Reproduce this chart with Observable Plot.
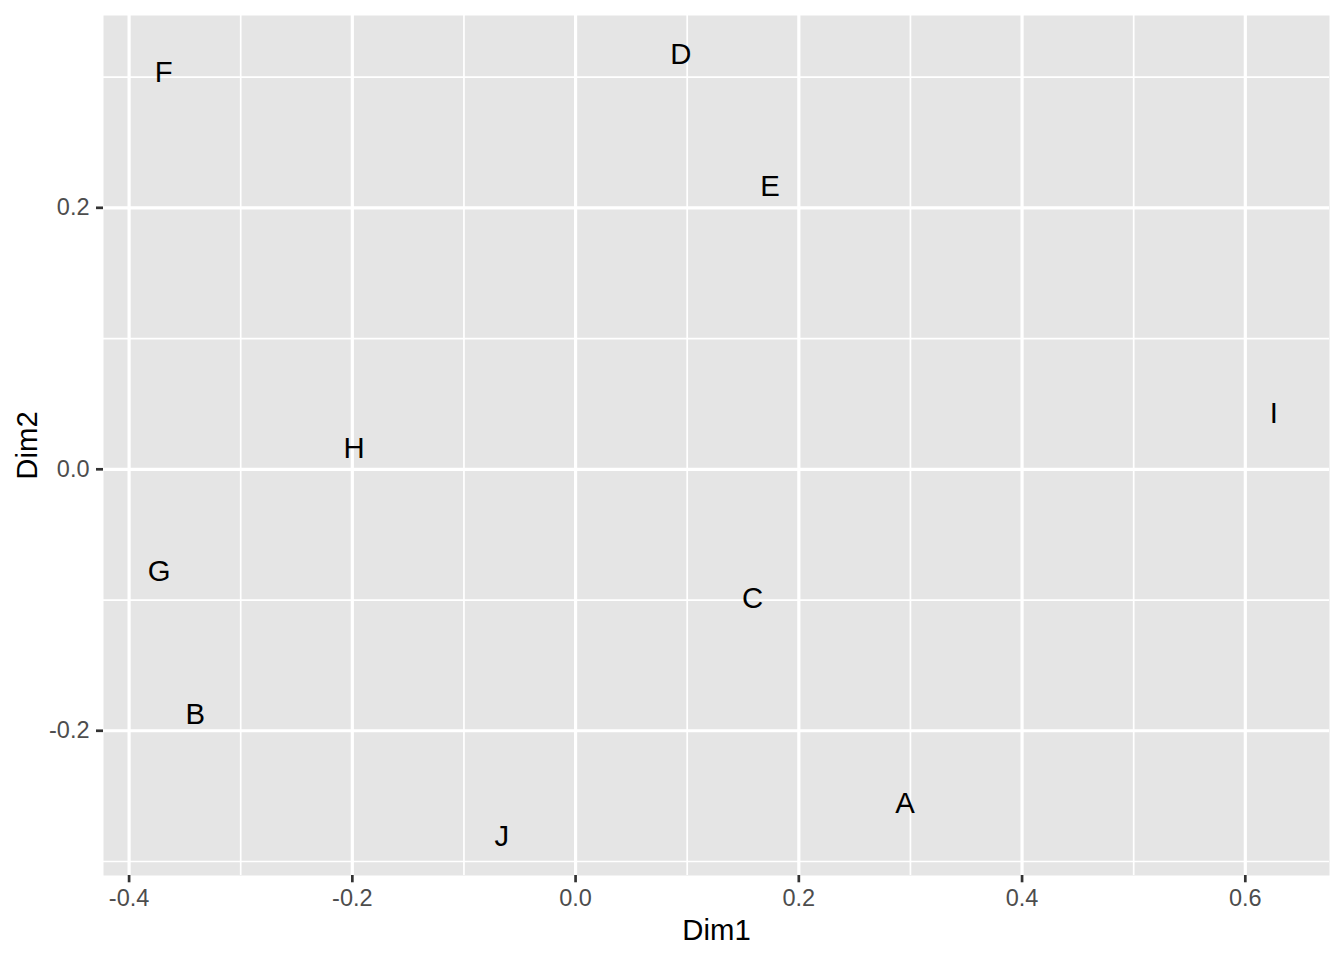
<!DOCTYPE html>
<html><head><meta charset="utf-8">
<script src="https://cdn.jsdelivr.net/npm/d3@7"></script>
<script src="https://cdn.jsdelivr.net/npm/@observablehq/plot@0.6"></script>
<style>html,body{margin:0;padding:0;background:#fff;} #chart svg{display:block;}</style>
</head><body><div id="chart"></div>
<script>
const labels = ["A","B","C","D","E","F","G","H","I","J"];
const dim1 = [0.2952,-0.3408,0.1586,0.0943,0.1743,-0.3689,-0.3730,-0.1985,0.6255,-0.0660];
const dim2 = [-0.2556,-0.1874,-0.0986,0.3172,0.2160,0.3033,-0.0786,0.0159,0.0425,-0.2808];
const xMajor = [-0.4,-0.2,0,0.2,0.4,0.6];
const xMinor = [-0.3,-0.1,0.1,0.3,0.5];
const yMajor = [-0.2,0,0.2];
const yMinor = [-0.3,-0.1,0.1,0.3];
const xTitle = "Dim1";
const yTitle = "Dim2";

const data = labels.map((l,i) => ({label:l, x:dim1[i], y:dim2[i]}));
function expand(v){const lo=d3.min(v),hi=d3.max(v),s=hi-lo;return [lo-0.05*s,hi+0.05*s];}
const font = "Liberation Sans, Arial, Helvetica, sans-serif";
const fmt = d => d.toFixed(1);

const chart = Plot.plot({
  width: 1344, height: 960,
  marginLeft: 103, marginRight: 15, marginTop: 15, marginBottom: 85,
  style: {fontFamily: font, background: "#ffffff"},
  x: {domain: expand(dim1)},
  y: {domain: expand(dim2)},
  marks: [
    Plot.frame({fill: "#E5E5E5", stroke: null}),
    Plot.ruleX(xMinor, {stroke: "white", strokeWidth: 1.7}),
    Plot.ruleY(yMinor, {stroke: "white", strokeWidth: 1.7}),
    Plot.ruleX(xMajor, {stroke: "white", strokeWidth: 3.2}),
    Plot.ruleY(yMajor, {stroke: "white", strokeWidth: 3.2}),
    Plot.axisX({ticks: xMajor, tickFormat: fmt, tickSize: 7.3, tickPadding: 7, stroke: "#333333", strokeWidth: 2.7, fill: "#4D4D4D", fontSize: 23.5, fontFamily: font, label: null}),
    Plot.axisY({ticks: yMajor, tickFormat: fmt, tickSize: 7, tickPadding: 7, stroke: "#333333", strokeWidth: 2.7, fill: "#4D4D4D", fontSize: 23.5, fontFamily: font, label: null}),
    Plot.text(data, {x: "x", y: "y", text: "label", fontSize: 29.3, fill: "black", fontFamily: font}),
    Plot.text([xTitle], {text: d => d, frameAnchor: "bottom", textAnchor: "middle", lineAnchor: "middle", dy: 55.6, fontSize: 29.3, fill: "black", fontFamily: font}),
    Plot.text([yTitle], {text: d => d, frameAnchor: "left", textAnchor: "middle", lineAnchor: "middle", dx: -75.7, rotate: -90, fontSize: 29.3, fill: "black", fontFamily: font})
  ]
});
document.getElementById("chart").appendChild(chart);
</script>
</body></html>
